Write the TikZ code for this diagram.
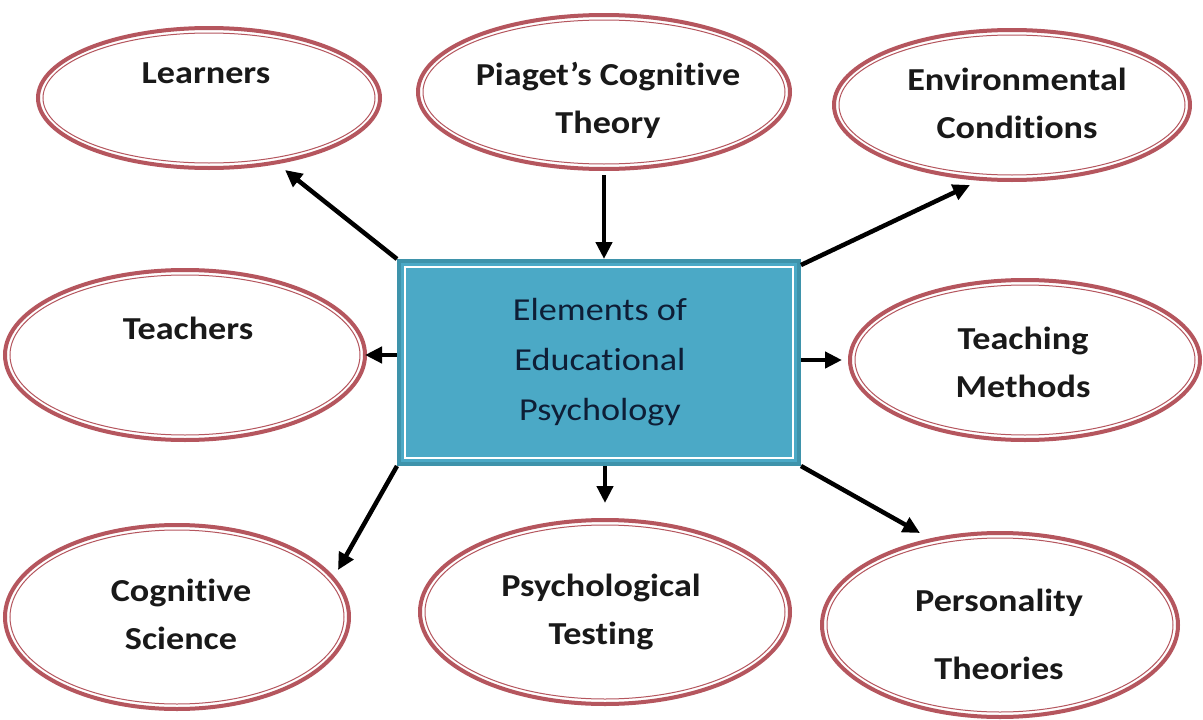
\documentclass[tikz,border=0pt]{standalone}
\usepackage{fontspec}
\setmainfont{Carlito}[FakeStretch=1.13, Ligatures=NoCommon]
\usetikzlibrary{shapes.geometric,arrows.meta,calc}
\definecolor{ellc}{HTML}{B5565E}
\definecolor{boxfill}{HTML}{4BA9C6}
\definecolor{boxline}{HTML}{3E93AB}
\definecolor{boxtext}{HTML}{0E1E36}
\tikzset{
  oval/.style={ellipse, draw=ellc, line width=4pt, inner sep=0pt, fill=white},
  lab/.style={font=\fontsize{32}{48}\selectfont\bfseries, text=black!90, align=center, inner sep=0pt},
  ctext/.style={font=\fontsize{32}{50}\selectfont, text=boxtext, align=center, inner sep=0pt},
  arr/.style={line width=4.5pt, -{Triangle[length=17pt,width=16pt]}, black},
}
\newcommand\myoval[5]{%
  \node[oval, minimum width=#4*2pt, minimum height=#5*2pt] (#1) at (#2,#3) {};
  \draw[ellc, line width=1pt] (#1.center) ellipse [x radius=#4-5, y radius=#5-5];
}
\begin{document}
\begin{tikzpicture}[x=1pt,y=-1pt]
\useasboundingbox[fill=white] (0,0) rectangle (1203,720);

\myoval{L}{209}{98}{171}{70}
\myoval{P}{604}{92}{186}{77}
\myoval{E}{1012}{105}{178}{75}
\myoval{T}{185}{355}{180}{85}
\myoval{M}{1025}{360}{175}{80}
\myoval{C}{177}{617}{172}{92}
\myoval{S}{605}{612}{185}{92}
\myoval{R}{1000}{625}{178}{92}

\node[lab] (tL) at (206,73) {Learners};
\node[lab] (tP) at (608,100) {Piaget’s Cognitive\\Theory};
\node[lab] (tE) at (1017,103) {Environmental\\Conditions};
\node[lab] (tT) at (188,328) {Teachers};
\node[lab] (tM) at (1023,362) {Teaching\\Methods};
\node[lab] (tC) at (181,614) {Cognitive\\Science};
\node[lab] (tS) at (601,612) {Psychological\\Testing};
\node[lab] (tR) at (999,634) {Personality\\[20pt]Theories};

\node[draw=boxline, line width=4pt, fill=boxfill, minimum width=400pt, minimum height=203pt, inner sep=0pt] (B) at (599,362.5) {};
\draw[white, line width=1.8pt] ($(B.north west)+(8,8)$) rectangle ($(B.south east)+(-8,-8)$);
\node[ctext] (tB) at (600,362) {Elements of\\Educational\\Psychology};

\draw[arr] (B.north west) -- ($(L.center)+(76,72)$);
\draw[arr] ($(P.south)+(0,4)$) -- (P.south |- B.north);
\draw[arr] ($(B.north east)+(0,6)$) -- ($(E.center)+(-42,80)$);
\draw[arr] (B.west |- T.east) -- ($(T.east)+(-2,0)$);
\draw[arr] (B.east |- M.west) -- ($(M.west)+(-6,0)$);
\draw[arr] (B.south west) -- ($(C.center)+(161,-47)$);
\draw[arr] (S.north |- B.south) -- ($(S.north)+(0,-15)$);
\draw[arr] (B.south east) -- ($(R.center)+(-80,-92)$);
\end{tikzpicture}
\end{document}
